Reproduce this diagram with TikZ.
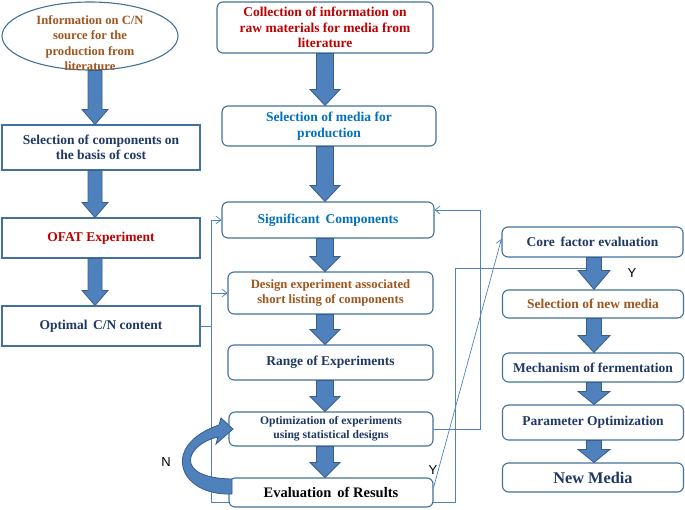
\documentclass[tikz,border=0pt]{standalone}
\usepackage{fontspec}
\setmainfont{Liberation Serif}
\newfontfamily\sansf{Liberation Sans}
\usetikzlibrary{shapes.geometric,arrows.meta,calc}
\definecolor{boxline}{HTML}{41719C}
\definecolor{arrfill}{HTML}{4F81BD}
\definecolor{arrline}{HTML}{385D8A}
\definecolor{thinc}{HTML}{4F81BD}
\definecolor{navy}{HTML}{1F3864}
\definecolor{redt}{HTML}{C00000}
\definecolor{bluet}{HTML}{0070C0}
\definecolor{brownt}{HTML}{A0561E}
\pgfdeclarelayer{bg}
\pgfsetlayers{bg,main}
\newcommand{\barrow}[6]{\path[blockarr] let \p1=(#2.south), \p2=(#3.north), \p3=(#1,0) in
  (\x3-#4pt,\y1) -- (\x3+#4pt,\y1) -- (\x3+#4pt,\y2+#6pt) -- (\x3+#5pt,\y2+#6pt) -- (\x3,\y2)
  -- (\x3-#5pt,\y2+#6pt) -- (\x3-#4pt,\y2+#6pt) -- cycle;}
\tikzset{
  box/.style={draw=boxline, line width=1.1pt, fill=white, align=center, inner sep=2pt,
    text=navy, font=\bfseries\fontsize{13.5}{15.5}\selectfont},
  rbox/.style={box, rounded corners=6pt},
  blockarr/.style={fill=arrfill, draw=arrline, line width=0.8pt, line join=miter},
  thinl/.style={draw=thinc, line width=0.7pt},
  thinarr/.style={thinl, -{Straight Barb[length=5pt,width=8pt]}},
  yn/.style={font=\sansf\fontsize{13}{13}\selectfont, text=black}
}
\begin{document}
\begin{tikzpicture}[x=1pt,y=-1pt]
\useasboundingbox (0,0) rectangle (685,509);
% left column
\node[ellipse, draw=boxline, line width=1.1pt, fill=white, minimum width=176pt, minimum height=68pt, inner sep=0pt] (info) at (90,36) {};
\node[align=center, text=brownt, font=\bfseries\fontsize{12.6}{15.5}\selectfont] (infot) at (90,43) {Information on C/N\\source for the\\production from\\literature};
\node[box, minimum width=198pt, minimum height=45pt] (sel) at (101,147.5) {Selection of components on\\the basis of cost};
\node[box, minimum width=198pt, minimum height=40pt, text=redt] (ofat) at (101,238) {OFAT Experiment};
\node[box, minimum width=198pt, minimum height=40pt] (opt) at (101,326) {Optimal\, C/N content};
% middle column
\node[rbox, minimum width=216pt, minimum height=51pt, text=redt] (coll) at (325,27.5) {Collection of information on\\raw materials for media from\\literature};
\node[rbox, minimum width=214pt, minimum height=40pt, text=bluet] (media) at (329,126) {Selection of media for\\production};
\node[rbox, minimum width=212pt, minimum height=36pt, text=bluet] (sig) at (328,220) {Significant\, Components};
\node[rbox, minimum width=205pt, minimum height=42pt, text=brownt, font=\bfseries\fontsize{12.7}{15}\selectfont] (des) at (330.5,293) {Design experiment associated\\short listing of components};
\node[rbox, minimum width=205pt, minimum height=35pt] (range) at (330.5,362.5) {Range of Experiments};
\node[rbox, minimum width=204pt, minimum height=34pt, font=\bfseries\fontsize{11.6}{14.3}\selectfont] (optim) at (331,429) {Optimization of experiments\\using statistical designs};
\node[rbox, minimum width=204pt, minimum height=29pt, text=black, font=\bfseries\fontsize{14.5}{16}\selectfont] (eval) at (331,492.5) {Evaluation\, of Results};
% right column
\node[rbox, minimum width=181pt, minimum height=30pt] (core) at (592.5,242) {Core\, factor evaluation};
\node[rbox, minimum width=181pt, minimum height=28pt, text=brownt] (newsel) at (593,304) {Selection of new media};
\node[rbox, minimum width=181pt, minimum height=29pt] (mech) at (593,367.5) {Mechanism of fermentation};
\node[rbox, minimum width=181pt, minimum height=35pt] (param) at (593,422.5) {Parameter Optimization};
\node[rbox, minimum width=181pt, minimum height=29pt, font=\bfseries\fontsize{16.3}{18}\selectfont] (newm) at (593,477.5) {New Media};
% labels
\node[yn] (N) at (166,462) {N};
\node[yn] (Y1) at (433,470) {Y};
\node[yn] (Y2) at (632,273) {Y};
% coordinates for thin connectors
\coordinate (xl) at (211,0);
\coordinate (bl) at (211,502);
\coordinate (br) at (455,502);
\coordinate (tr) at (455,268);
\coordinate (yj) at (590,268);
\coordinate (rx) at (480,0);
\coordinate (sigtop) at ([yshift=10pt]sig.east);
\begin{pgfonlayer}{bg}
\draw[thinl] (opt.east) -- (xl |- opt.east);
\draw[thinl] (xl |- sig.west) -- (bl) -- (br) -- (tr) -- (yj);
\draw[thinarr] (xl |- sig.west) -- (sig.west);
\draw[thinarr] (xl |- des.west) -- (des.west);
\draw[thinarr] (optim.east) -- (rx |- optim.east) -- (rx |- sigtop) -- (sigtop);
\draw[thinarr] ([yshift=5pt]eval.east) -- ([yshift=3pt]core.west);
\end{pgfonlayer}
% block arrows
\barrow{95}{info}{sel}{7}{13}{15}
\barrow{95}{sel}{ofat}{7}{13}{15}
\barrow{95}{ofat}{opt}{7}{13}{15}
\barrow{325}{coll}{media}{8.5}{15}{16}
\barrow{325}{media}{sig}{8.5}{15}{16}
\barrow{325}{sig}{des}{8.5}{15}{15}
\barrow{325}{des}{range}{8.5}{15}{15}
\barrow{325}{range}{optim}{8.5}{15}{15}
\barrow{325}{optim}{eval}{8.5}{15}{15}
\barrow{594}{core}{newsel}{7.5}{16}{19}
\barrow{594}{newsel}{mech}{7.5}{16}{17}
\barrow{594}{mech}{param}{7.5}{16}{13}
\barrow{594}{param}{newm}{7.5}{16}{13}
% curved N arrow
\path[blockarr] (232,494) .. controls (178,496) and (160,445) .. (219,425) -- (221,418) -- (233,429)
  -- (216,444) -- (218,437) .. controls (186,444) and (172,478) .. (232,479) -- cycle;
\end{tikzpicture}
\end{document}
